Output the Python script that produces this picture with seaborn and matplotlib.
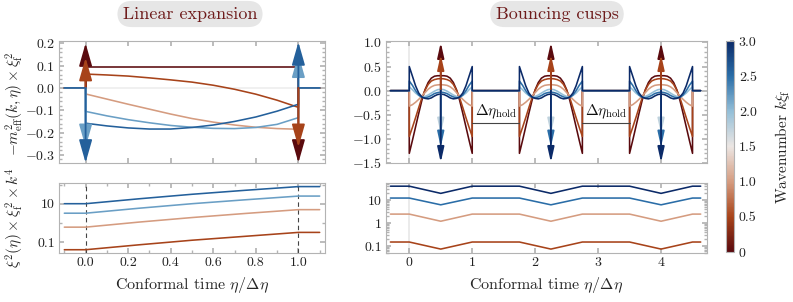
import numpy as np
import pandas as pd
import matplotlib
matplotlib.use("Agg")
import matplotlib.pyplot as plt
import seaborn as sns
from matplotlib.colors import LinearSegmentedColormap, Normalize
from matplotlib.cm import ScalarMappable
from matplotlib.ticker import AutoMinorLocator, FixedLocator, NullFormatter

sns.set_theme(style='ticks')
plt.rcParams.update({
    'font.family': 'serif',
    'font.serif': ['cmr10', 'DejaVu Serif'],
    'mathtext.fontset': 'cm',
    'axes.formatter.use_mathtext': True,
    'axes.unicode_minus': True,
})

# --- colour scale: wavenumber k xi_f from 0 to 3 ---
CMAP_COLORS = ['#5a0a0e', '#a8441a', '#d59c80', '#ece6e3', '#94bfd8', '#2a6ea8', '#0b2a68']
cmap = LinearSegmentedColormap.from_list('kxi', CMAP_COLORS)
norm = Normalize(0, 3)
CBAR_TICKS = [0, 0.5, 1.0, 1.5, 2.0, 2.5, 3.0]
CBAR_LABELS = ['0', '0.5', '1.0', '1.5', '2.0', '2.5', '3.0']

# --- left top: linear expansion, -m_eff^2 xi_f^2 ---
ETA_LEFT = [0.0, 0.1, 0.2, 0.3, 0.4, 0.5, 0.6, 0.7, 0.8, 0.9, 1.0]
K_LEFT = [0.0, 0.5, 1.0, 2.2, 2.6]
MEFF_LEFT_K00 = [0.095, 0.095, 0.095, 0.095, 0.095, 0.095, 0.095, 0.095, 0.095, 0.095, 0.095]
MEFF_LEFT_K05 = [0.062, 0.058, 0.053, 0.045, 0.036, 0.026, 0.012, -0.006, -0.028, -0.055, -0.087]
MEFF_LEFT_K10 = [-0.027, -0.050, -0.073, -0.095, -0.117, -0.137, -0.153, -0.166, -0.176, -0.182, -0.185]
MEFF_LEFT_K22 = [-0.105, -0.125, -0.142, -0.156, -0.168, -0.176, -0.181, -0.182, -0.177, -0.163, -0.133]
MEFF_LEFT_K26 = [-0.158, -0.170, -0.179, -0.184, -0.184, -0.177, -0.166, -0.150, -0.130, -0.104, -0.073]
MEFF_LEFT = [MEFF_LEFT_K00, MEFF_LEFT_K05, MEFF_LEFT_K10, MEFF_LEFT_K22, MEFF_LEFT_K26]
LEFT_X_START, LEFT_X_END = -0.1, 1.1

# delta kicks at the transitions (drawn in this order)
LEFT_KICK_X = [0.0, 0.0, 0.0, 0.0, 1.0, 1.0, 1.0, 1.0]
LEFT_KICK_K = [0.0, 0.5, 2.2, 2.6, 2.2, 2.6, 0.0, 0.5]
LEFT_KICK_TIP = [0.20, 0.135, -0.265, -0.335, 0.15, 0.205, -0.335, -0.265]

# --- left bottom: xi^2 xi_f^2 k^4 ---
ETA_LEFT_XI = [-0.1, 0.0, 0.25, 0.5, 0.75, 1.0, 1.1]
K_LEFT_XI = [2.6, 2.2, 1.0, 0.5]
XI_LEFT_K26 = [10.0, 10.0, 18.0, 31.0, 50.0, 78.0, 78.0]
XI_LEFT_K22 = [3.2, 3.2, 5.8, 10.0, 16.0, 25.0, 25.0]
XI_LEFT_K10 = [0.6, 0.6, 1.1, 1.9, 3.1, 4.9, 4.9]
XI_LEFT_K05 = [0.04, 0.04, 0.072, 0.125, 0.2, 0.32, 0.32]
XI_LEFT = [XI_LEFT_K26, XI_LEFT_K22, XI_LEFT_K10, XI_LEFT_K05]

# --- right top: bouncing cusps, one bounce profile (repeats every bounce) ---
BOUNCE_U = [0.0, 0.05, 0.1, 0.15, 0.2, 0.25, 0.3, 0.35, 0.4, 0.45, 0.5,
            0.55, 0.6, 0.65, 0.7, 0.75, 0.8, 0.85, 0.9, 0.95, 1.0]
BOUNCE_STARTS = [0.0, 1.75, 3.5]
K_RIGHT = [0.0, 0.5, 1.0, 2.0, 2.5, 3.0]
MEFF_RIGHT_K00 = [-1.30, -1.03, -0.75, -0.47, -0.20, 0.02, 0.17, 0.26, 0.30, 0.31, 0.31,
                  0.31, 0.30, 0.26, 0.17, 0.02, -0.20, -0.47, -0.75, -1.03, -1.30]
MEFF_RIGHT_K05 = [-0.95, -0.76, -0.56, -0.35, -0.15, 0.01, 0.13, 0.20, 0.23, 0.245, 0.25,
                  0.245, 0.23, 0.20, 0.13, 0.01, -0.15, -0.35, -0.56, -0.76, -0.95]
MEFF_RIGHT_K10 = [-0.32, -0.29, -0.24, -0.18, -0.11, -0.04, 0.03, 0.08, 0.11, 0.12, 0.125,
                  0.12, 0.11, 0.08, 0.03, -0.04, -0.11, -0.18, -0.24, -0.29, -0.32]
MEFF_RIGHT_K20 = [0.08, 0.02, -0.05, -0.10, -0.13, -0.12, -0.09, -0.05, -0.01, 0.02, 0.03,
                  0.02, -0.01, -0.05, -0.09, -0.12, -0.13, -0.10, -0.05, 0.02, 0.08]
MEFF_RIGHT_K25 = [0.20, 0.11, 0.00, -0.09, -0.14, -0.15, -0.13, -0.10, -0.06, -0.04, -0.03,
                  -0.04, -0.06, -0.10, -0.13, -0.15, -0.14, -0.09, 0.00, 0.11, 0.20]
MEFF_RIGHT_K30 = [0.50, 0.30, 0.10, -0.05, -0.13, -0.16, -0.17, -0.15, -0.11, -0.08, -0.07,
                  -0.08, -0.11, -0.15, -0.17, -0.16, -0.13, -0.05, 0.10, 0.30, 0.50]
MEFF_RIGHT = [MEFF_RIGHT_K00, MEFF_RIGHT_K05, MEFF_RIGHT_K10,
              MEFF_RIGHT_K20, MEFF_RIGHT_K25, MEFF_RIGHT_K30]
RIGHT_X_START, RIGHT_X_END = -0.3, 4.63

CUSP_X = [0.5, 2.25, 4.0]
CUSP_K = [0.0, 0.5, 1.75, 2.5, 3.0]
CUSP_TIP = [1.0, 0.75, -0.9, -1.17, -1.49]

HOLD_START = [1.0, 2.75]
HOLD_END = [1.75, 3.5]
HOLD_Y = -0.68

# --- right bottom: xi^2 xi_f^2 k^4 through the bounces ---
ETA_RIGHT_XI = [-0.3, 0.0, 0.5, 1.0, 1.75, 2.25, 2.75, 3.5, 4.0, 4.5, 4.63]
K_RIGHT_XI = [3.0, 2.5, 1.0, 0.5]
XI_RIGHT_K30 = [40, 40, 19.5, 40, 40, 19.5, 40, 40, 19.5, 40, 40]
XI_RIGHT_K25 = [12.2, 12.2, 6.2, 12.2, 12.2, 6.2, 12.2, 12.2, 6.2, 12.2, 12.2]
XI_RIGHT_K10 = [2.45, 2.45, 1.2, 2.45, 2.45, 1.2, 2.45, 2.45, 1.2, 2.45, 2.45]
XI_RIGHT_K05 = [0.15, 0.15, 0.074, 0.15, 0.15, 0.074, 0.15, 0.15, 0.074, 0.15, 0.15]
XI_RIGHT = [XI_RIGHT_K30, XI_RIGHT_K25, XI_RIGHT_K10, XI_RIGHT_K05]

SPINE = '#b3b3b3'
LW = 1.15


def style_axis(ax):
    for s in ax.spines.values():
        s.set_color(SPINE)
        s.set_linewidth(0.8)
    ax.tick_params(which='both', direction='in', color=SPINE, labelcolor='#222222',
                   labelsize=10, top=True, right=True, pad=3)
    ax.tick_params(which='major', length=3.5)
    ax.tick_params(which='minor', length=2)


def draw_line(ax, xs, ys, color, zorder=2):
    sns.lineplot(x=xs, y=ys, ax=ax, color=color, lw=LW, sort=False,
                 estimator=None, zorder=zorder, legend=False)


def kick(ax, x, tip, color, ms, hl, hw):
    ax.annotate('', xy=(x, tip), xytext=(x, 0.0), annotation_clip=False,
                arrowprops=dict(arrowstyle=f'-|>,head_length={hl},head_width={hw}',
                                color=color, lw=1.3, shrinkA=0, shrinkB=0,
                                mutation_scale=ms), zorder=5)


fig = plt.figure(figsize=(7.93, 3.02), dpi=100)
W, H = 793.0, 302.0


def axes_px(x0, x1, y0, y1):
    return fig.add_axes([x0 / W, 1 - y1 / H, (x1 - x0) / W, (y1 - y0) / H])


ax_lt = axes_px(59, 325, 41, 163)
ax_lb = axes_px(59, 325, 183, 253)
ax_rt = axes_px(386, 707, 41, 163)
ax_rb = axes_px(386, 707, 183, 253)
cax = axes_px(726, 734, 41, 252)

# ---------------- left top ----------------
ax_lt.axhline(0, color='#eeeeee', lw=1.2, zorder=0)
for k, vals in zip(K_LEFT, MEFF_LEFT):
    xs = [LEFT_X_START, 0.0] + ETA_LEFT + [1.0, LEFT_X_END]
    ys = [0.0, 0.0] + vals + [0.0, 0.0]
    draw_line(ax_lt, xs, ys, cmap(norm(k)))
for x, k, tip in zip(LEFT_KICK_X, LEFT_KICK_K, LEFT_KICK_TIP):
    kick(ax_lt, x, tip, cmap(norm(k)), ms=20, hl=0.7, hw=0.2)
ax_lt.set_xlim(-0.125, 1.125)
ax_lt.set_ylim(-0.336, 0.21)
ax_lt.set_yticks([-0.3, -0.2, -0.1, 0.0, 0.1, 0.2])
ax_lt.yaxis.set_minor_locator(AutoMinorLocator(5))
ax_lt.set_xticks([0.0, 0.2, 0.4, 0.6, 0.8, 1.0])
ax_lt.xaxis.set_major_formatter(NullFormatter())
ax_lt.set_xlabel('')
ax_lt.set_ylabel('')
style_axis(ax_lt)

# ---------------- left bottom ----------------
for x in [0.0, 1.0]:
    ax_lb.axvline(x, color='#444444', lw=0.8, ls=(0, (4, 3)), zorder=1)
for k, vals in zip(K_LEFT_XI, XI_LEFT):
    draw_line(ax_lb, ETA_LEFT_XI, vals, cmap(norm(k)))
ax_lb.set_yscale('log')
ax_lb.set_xlim(-0.125, 1.125)
ax_lb.set_ylim(0.027, 120)
ax_lb.yaxis.set_major_locator(FixedLocator([0.1, 10]))
ax_lb.yaxis.set_minor_locator(FixedLocator([1, 100]))
ax_lb.yaxis.set_minor_formatter(NullFormatter())
ax_lb.set_yticklabels(['0.1', '10'])
ax_lb.set_xticks([0.0, 0.2, 0.4, 0.6, 0.8, 1.0])
ax_lb.set_xticklabels(['0.0', '0.2', '0.4', '0.6', '0.8', '1.0'])
ax_lb.xaxis.set_minor_locator(AutoMinorLocator(2))
ax_lb.set_xlabel(r'Conformal time $\eta/\Delta\eta$', fontsize=11.5, labelpad=4)
ax_lb.set_ylabel('')
style_axis(ax_lb)

# ---------------- right top ----------------
ax_rt.axvline(0, color='#e8e8e8', lw=1.2, zorder=0)
for k, prof in zip(K_RIGHT, MEFF_RIGHT):
    xs, ys = [RIGHT_X_START], [0.0]
    for s in BOUNCE_STARTS:
        xs += [s] + [s + u for u in BOUNCE_U] + [s + 1.0]
        ys += [0.0] + prof + [0.0]
    xs.append(RIGHT_X_END)
    ys.append(0.0)
    draw_line(ax_rt, xs, ys, cmap(norm(k)))
for cx in CUSP_X:
    for k, tip in zip(CUSP_K, CUSP_TIP):
        kick(ax_rt, cx, tip, cmap(norm(k)), ms=10, hl=0.9, hw=0.2)
for a, b in zip(HOLD_START, HOLD_END):
    ax_rt.plot([a, b], [HOLD_Y, HOLD_Y], color='#444444', lw=0.8, zorder=3)
    ax_rt.text((a + b) / 2, HOLD_Y + 0.06, r'$\Delta\eta_{\rm hold}$', ha='center',
               va='bottom', fontsize=11, color='#111111', zorder=4)
ax_rt.set_xlim(-0.37, 4.73)
ax_rt.set_ylim(-1.5, 1.03)
ax_rt.set_yticks([-1.5, -1.0, -0.5, 0.0, 0.5, 1.0])
ax_rt.yaxis.set_minor_locator(AutoMinorLocator(5))
ax_rt.set_xticks([0, 1, 2, 3, 4])
ax_rt.xaxis.set_major_formatter(NullFormatter())
ax_rt.set_xlabel('')
ax_rt.set_ylabel('')
style_axis(ax_rt)

# ---------------- right bottom ----------------
ax_rb.axvline(0, color='#e8e8e8', lw=1.2, zorder=0)
for k, vals in zip(K_RIGHT_XI, XI_RIGHT):
    draw_line(ax_rb, ETA_RIGHT_XI, vals, cmap(norm(k)))
ax_rb.set_yscale('log')
ax_rb.set_xlim(-0.37, 4.73)
ax_rb.set_ylim(0.05, 55)
ax_rb.yaxis.set_major_locator(FixedLocator([0.1, 1, 10]))
ax_rb.yaxis.set_minor_formatter(NullFormatter())
ax_rb.set_yticklabels(['0.1', '1', '10'])
ax_rb.set_xticks([0, 1, 2, 3, 4])
ax_rb.set_xticklabels(['0', '1', '2', '3', '4'])
ax_rb.set_xlabel(r'Conformal time $\eta/\Delta\eta$', fontsize=11.5, labelpad=4)
ax_rb.set_ylabel('')
style_axis(ax_rb)

# ---------------- colour bar ----------------
cb = fig.colorbar(ScalarMappable(norm=norm, cmap=cmap), cax=cax)
cb.outline.set_edgecolor(SPINE)
cb.outline.set_linewidth(0.8)
cb.set_ticks(CBAR_TICKS)
cb.set_ticklabels(CBAR_LABELS)
cax.tick_params(direction='in', length=3, color=SPINE, labelsize=10, labelcolor='#222222')
fig.text(783 / W, 1 - 147 / H, r'Wavenumber $k\xi_{\rm f}$', rotation=90,
         ha='center', va='center', fontsize=11)

# ---------------- labels and titles ----------------
fig.text(15 / W, 1 - 104 / H, r'$-m^2_{\rm eff}(k,\eta)\times\xi_{\rm f}^2$', rotation=90,
         ha='center', va='center', fontsize=11)
fig.text(15 / W, 1 - 218 / H, r'$\xi^2(\eta)\times\xi_{\rm f}^2\times k^4$', rotation=90,
         ha='center', va='center', fontsize=11)

title_box = dict(boxstyle='round,pad=0.3,rounding_size=0.8', facecolor='#e6e6e6', edgecolor='none')
fig.text(190 / W, 1 - 14 / H, 'Linear expansion', ha='center', va='center',
         fontsize=13, color='#6e1b1b', bbox=title_box)
fig.text(557 / W, 1 - 14 / H, 'Bouncing cusps', ha='center', va='center',
         fontsize=13, color='#6e1b1b', bbox=title_box)

fig.savefig('out.png', dpi=100)
